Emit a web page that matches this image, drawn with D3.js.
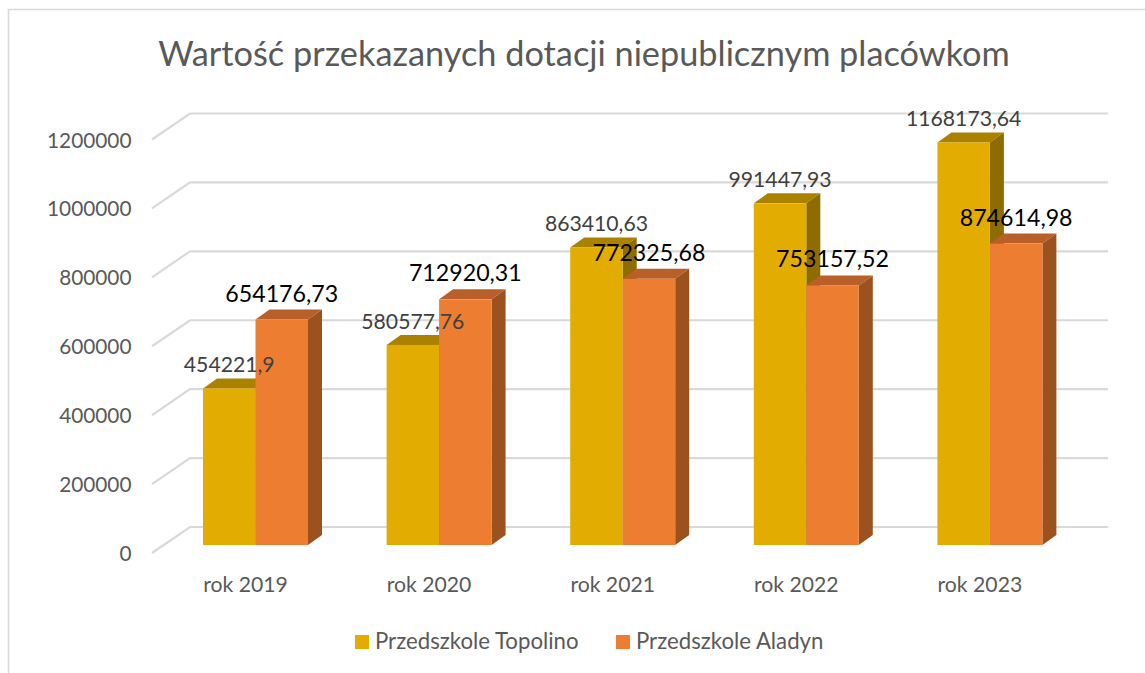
<!DOCTYPE html>
<html><head><meta charset="utf-8">
<script src="https://cdn.jsdelivr.net/npm/d3@7"></script>
<style>html,body{margin:0;background:#fff}svg{display:block}text{font-family:Lato,"Open Sans",sans-serif}</style>
</head><body><svg id="c" width="1145" height="673"></svg>
<script>
const chartTitle = "Wartość przekazanych dotacji niepublicznym placówkom";
const categories = ["rok 2019","rok 2020","rok 2021","rok 2022","rok 2023"];
const seriesNames = ["Przedszkole Topolino","Przedszkole Aladyn"];
const topolino = [454221.9,580577.76,863410.63,991447.93,1168173.64];
const aladyn = [654176.73,712920.31,772325.68,753157.52,874614.98];
const topolinoLabels = ["454221,9","580577,76","863410,63","991447,93","1168173,64"];
const aladynLabels = ["654176,73","712920,31","772325,68","753157,52","874614,98"];
const yTicks = [0,200000,400000,600000,800000,1000000,1200000];

const svg = d3.select("#c");
const dx = 14, dy = 10;
const x0 = d3.scaleBand().domain(categories).range([163.7,1081.7]).paddingInner(78.6/183.6).paddingOuter(39.3/183.6);
const x1 = d3.scaleBand().domain([0,1]).range([0,x0.bandwidth()]);
const y = d3.scaleLinear().domain([0,1200000]).range([545,131.5]);

svg.append("path").attr("d","M8.5,673V9.5H1145").attr("fill","none").attr("stroke","#d9d9d9").attr("stroke-width",1.6);

svg.append("text").attr("x",584).attr("y",66).attr("text-anchor","middle").attr("font-size",34.3).attr("fill","#595959").text(chartTitle);

const grid = svg.append("g");
yTicks.forEach(t=>{
  const yy = y(t);
  grid.append("path").attr("d",`M152,${yy+8}L190,${yy-18}H1108`).attr("fill","none").attr("stroke","#d9d9d9").attr("stroke-width",2.2);
  svg.append("text").attr("x",131.5).attr("y",yy+16).attr("text-anchor","end").attr("font-size",20.8).attr("fill","#595959").text(t);
});

const palettes = [
  {front:"#e2ac00",top:"#ab8200",side:"#8e6c00"},
  {front:"#ed7d31",top:"#b9602a",side:"#9c521f"}
];
const groups = [topolino,aladyn];
const bars = svg.append("g");
categories.forEach((c,i)=>{
  groups.forEach((vals,s)=>{
    const l = x0(c)+x1(s), w = x1.bandwidth(), t = y(vals[i]), b = y(0), p = palettes[s];
    const g = bars.append("g");
    g.append("path").attr("d",`M${l},${t}l${dx},${-dy}h${w}l${-dx},${dy}Z`).attr("fill",p.top);
    g.append("path").attr("d",`M${l+w},${t}l${dx},${-dy}V${b-dy}l${-dx},${dy}Z`).attr("fill",p.side);
    g.append("rect").attr("x",l).attr("y",t).attr("width",w).attr("height",b-t).attr("fill",p.front);
  });
});

categories.forEach((c,i)=>{
  svg.append("text").attr("x",x0(c)+x0.bandwidth()/2-10).attr("y",592).attr("text-anchor","middle").attr("font-size",21.2).attr("fill","#595959").text(c);
  svg.append("text").attr("x",x0(c)+x1(0)+x1.bandwidth()/2).attr("y",y(topolino[i])-16).attr("text-anchor","middle").attr("font-size",21.2).attr("fill","#404040").text(topolinoLabels[i]);
  svg.append("text").attr("x",x0(c)+x1(1)+x1.bandwidth()/2).attr("y",y(aladyn[i])-18).attr("text-anchor","middle").attr("font-size",23.2).attr("fill","#000").text(aladynLabels[i]);
});

const lg = [[355,seriesNames[0]],[616,seriesNames[1]]];
lg.forEach(([lx,name],i)=>{
  svg.append("rect").attr("x",lx).attr("y",635).attr("width",14).attr("height",14).attr("fill",palettes[i].front);
  svg.append("text").attr("x",lx+20).attr("y",649).attr("font-size",22.2).attr("fill","#595959").text(name);
});
</script></body></html>
